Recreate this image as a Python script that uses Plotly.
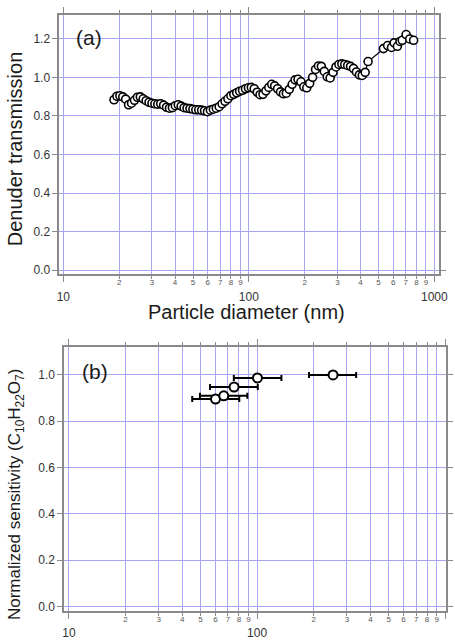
import plotly.graph_objects as go

# ---------------- Panel (a): denuder transmission ----------------
diam_a = [18.75, 19.44, 20.16, 20.90, 21.67, 22.47, 23.31, 24.17, 25.06, 25.98,
          26.94, 27.93, 28.96, 30.03, 31.14, 32.29, 33.48, 34.72, 36.00, 37.33,
          38.71, 40.13, 41.62, 43.15, 44.75, 46.42, 48.13, 49.91, 51.75, 53.66,
          55.64, 57.70, 59.83, 62.04, 64.33, 66.70, 69.17, 71.72, 74.37, 77.11,
          79.96, 82.91, 85.97, 89.15, 92.44, 95.85, 99.40, 103.07, 106.87, 110.82,
          114.91, 119.15, 123.55, 128.11, 132.84, 137.74, 142.83, 148.10, 153.56, 159.23,
          165.11, 171.20, 177.52, 184.07, 190.87, 197.91, 205.22, 212.79, 220.65, 228.79,
          237.23, 245.99, 255.07, 264.48, 274.24, 284.36, 294.86, 305.74, 317.02, 328.72,
          340.86, 353.44, 366.48, 380.00, 394.03, 408.57, 423.64, 439.28,
          531.5, 559.8, 587.5, 606.9, 631.7, 652.6, 671.1, 704.3, 736.5, 773.0]
trans_a = [0.884, 0.902, 0.905, 0.899, 0.887, 0.858, 0.866, 0.881, 0.897, 0.899,
           0.889, 0.879, 0.871, 0.866, 0.863, 0.861, 0.863, 0.856, 0.845, 0.840,
           0.843, 0.853, 0.858, 0.851, 0.843, 0.840, 0.838, 0.835, 0.832, 0.832,
           0.830, 0.827, 0.822, 0.830, 0.835, 0.840, 0.848, 0.863, 0.876, 0.889,
           0.905, 0.912, 0.920, 0.928, 0.933, 0.941, 0.946, 0.948, 0.941, 0.923,
           0.910, 0.912, 0.930, 0.948, 0.964, 0.956, 0.941, 0.925, 0.915, 0.918,
           0.938, 0.964, 0.987, 0.990, 0.977, 0.951, 0.946, 0.969, 1.000, 1.041,
           1.059, 1.057, 1.031, 1.003, 0.997, 1.026, 1.054, 1.067, 1.070, 1.067,
           1.062, 1.057, 1.046, 1.028, 1.013, 1.010, 1.026, 1.082,
           1.149, 1.165, 1.155, 1.179, 1.161, 1.186, 1.192, 1.222, 1.199, 1.192]

# ---------------- Panel (b): normalized sensitivity ----------------
diam_b = [60.1, 66.5, 75.4, 100.4, 253.2]
sens_b = [0.896, 0.910, 0.948, 0.987, 1.000]
diam_b_lo = [45.2, 49.7, 56.2, 75.2, 188.7]
diam_b_hi = [80.4, 88.7, 100.8, 134.6, 335.9]

# ---------------- Tick definitions ----------------
major_vals = [10, 100, 1000]
major_text = ["10", "100", "1000"]
minor_vals = [20, 30, 40, 50, 60, 70, 80, 90, 200, 300, 400, 500, 600, 700, 800, 900]
minor_text = ["2", "3", "4", "5", "6", "7", "8", "9", "2", "3", "4", "5", "6", "7", "8", "9"]
y_ticks_a = [0.0, 0.2, 0.4, 0.6, 0.8, 1.0, 1.2]
y_ticks_b = [0.0, 0.2, 0.4, 0.6, 0.8, 1.0]

FONT = "Liberation Sans, Arial, sans-serif"
GRID = "#a6a6f2"
AXC = "#8a8a8a"
W, H = 455, 640

err_plus = [h - x for h, x in zip(diam_b_hi, diam_b)]
err_minus = [x - l for x, l in zip(diam_b, diam_b_lo)]

fig = go.Figure()
fig.add_trace(go.Scatter(
    x=diam_a, y=trans_a, mode="lines+markers", xaxis="x", yaxis="y",
    line=dict(color="black", width=1.2),
    marker=dict(symbol="circle", size=8, color="white", line=dict(color="black", width=1.6)),
    showlegend=False, hoverinfo="skip"))
fig.add_trace(go.Scatter(
    x=diam_b, y=sens_b, mode="markers", xaxis="x2", yaxis="y2",
    error_x=dict(type="data", symmetric=False, array=err_plus, arrayminus=err_minus,
                 color="black", thickness=2, width=3),
    marker=dict(symbol="circle", size=9, color="white", line=dict(color="black", width=2)),
    showlegend=False, hoverinfo="skip"))
# invisible carriers so the overlaid minor-label axes are drawn
fig.add_trace(go.Scatter(x=major_vals[:1], y=[None], xaxis="x3", yaxis="y",
                         mode="markers", showlegend=False, hoverinfo="skip"))
fig.add_trace(go.Scatter(x=major_vals[:1], y=[None], xaxis="x4", yaxis="y2",
                         mode="markers", showlegend=False, hoverinfo="skip"))

dom_xa = [58 / W, 448 / W]
rng_xa = [0.979, 3.026]
dom_ya = [(H - 276) / H, (H - 15) / H]
rng_ya = [-0.0206, 1.3237]
dom_xb = [63 / W, 1.0]
rng_xb = [0.9757, 3.0036]
dom_yb = [(H - 614.7) / H, (H - 349) / H]
rng_yb = [-0.0189, 1.1215]


def main_x(dom, rng, anchor):
    return dict(type="log", domain=dom, range=rng, anchor=anchor,
                tickmode="array", tickvals=major_vals, ticktext=major_text,
                ticks="outside", ticklen=6, tickwidth=1, tickcolor=AXC,
                ticklabelstandoff=4,
                tickfont=dict(family=FONT, size=12, color="#333333"),
                showline=True, linecolor=AXC, linewidth=2, mirror="ticks",
                showgrid=True, gridcolor=GRID, gridwidth=1, zeroline=False,
                minor=dict(tickmode="array", tickvals=minor_vals, ticks="outside",
                           ticklen=3, tickcolor=AXC, showgrid=True,
                           gridcolor=GRID, gridwidth=1))


def minor_x(dom, rng, anchor, over):
    return dict(type="log", domain=dom, range=rng, anchor=anchor, overlaying=over,
                side="bottom",
                tickmode="array", tickvals=minor_vals, ticktext=minor_text,
                ticks="", ticklabelstandoff=2,
                tickfont=dict(family=FONT, size=8, color="#555555"),
                showgrid=False, showline=False, zeroline=False)


def main_y(dom, rng, anchor, tv):
    return dict(domain=dom, range=rng, anchor=anchor, tickmode="array", tickvals=tv,
                tickformat=".1f", ticks="outside", ticklen=5, tickwidth=1, tickcolor=AXC,
                tickfont=dict(family=FONT, size=12, color="#333333"),
                showline=True, linecolor=AXC, linewidth=2, mirror="ticks",
                showgrid=True, gridcolor=GRID, gridwidth=1, zeroline=False)


def ann(text, x, y, size, angle=0):
    return dict(text=text, x=x / W, y=(H - y) / H, xref="paper", yref="paper",
                xanchor="center", yanchor="middle", textangle=angle,
                showarrow=False, font=dict(family=FONT, size=size, color="#1a1a1a"))


fig.update_layout(
    width=W, height=H, margin=dict(l=0, r=0, t=0, b=0),
    paper_bgcolor="white", plot_bgcolor="white",
    font=dict(family=FONT, color="#222222"),
    xaxis=main_x(dom_xa, rng_xa, "y"),
    xaxis3=minor_x(dom_xa, rng_xa, "y", "x"),
    yaxis=main_y(dom_ya, rng_ya, "x", y_ticks_a),
    xaxis2=main_x(dom_xb, rng_xb, "y2"),
    xaxis4=minor_x(dom_xb, rng_xb, "y2", "x2"),
    yaxis2=main_y(dom_yb, rng_yb, "x2", y_ticks_b),
    annotations=[
        ann("(a)", 88, 37.5, 21),
        ann("(b)", 94, 374, 21),
        ann("Particle diameter (nm)", 250.5, 314, 20),
        ann("Denuder transmission", 12, 149.5, 20, -90),
        ann("Normalized sensitivity (C<sub>10</sub>H<sub>22</sub>O<sub>7</sub>)",
            14, 497.5, 17, -90),
    ],
)

fig.write_html("out.html")
